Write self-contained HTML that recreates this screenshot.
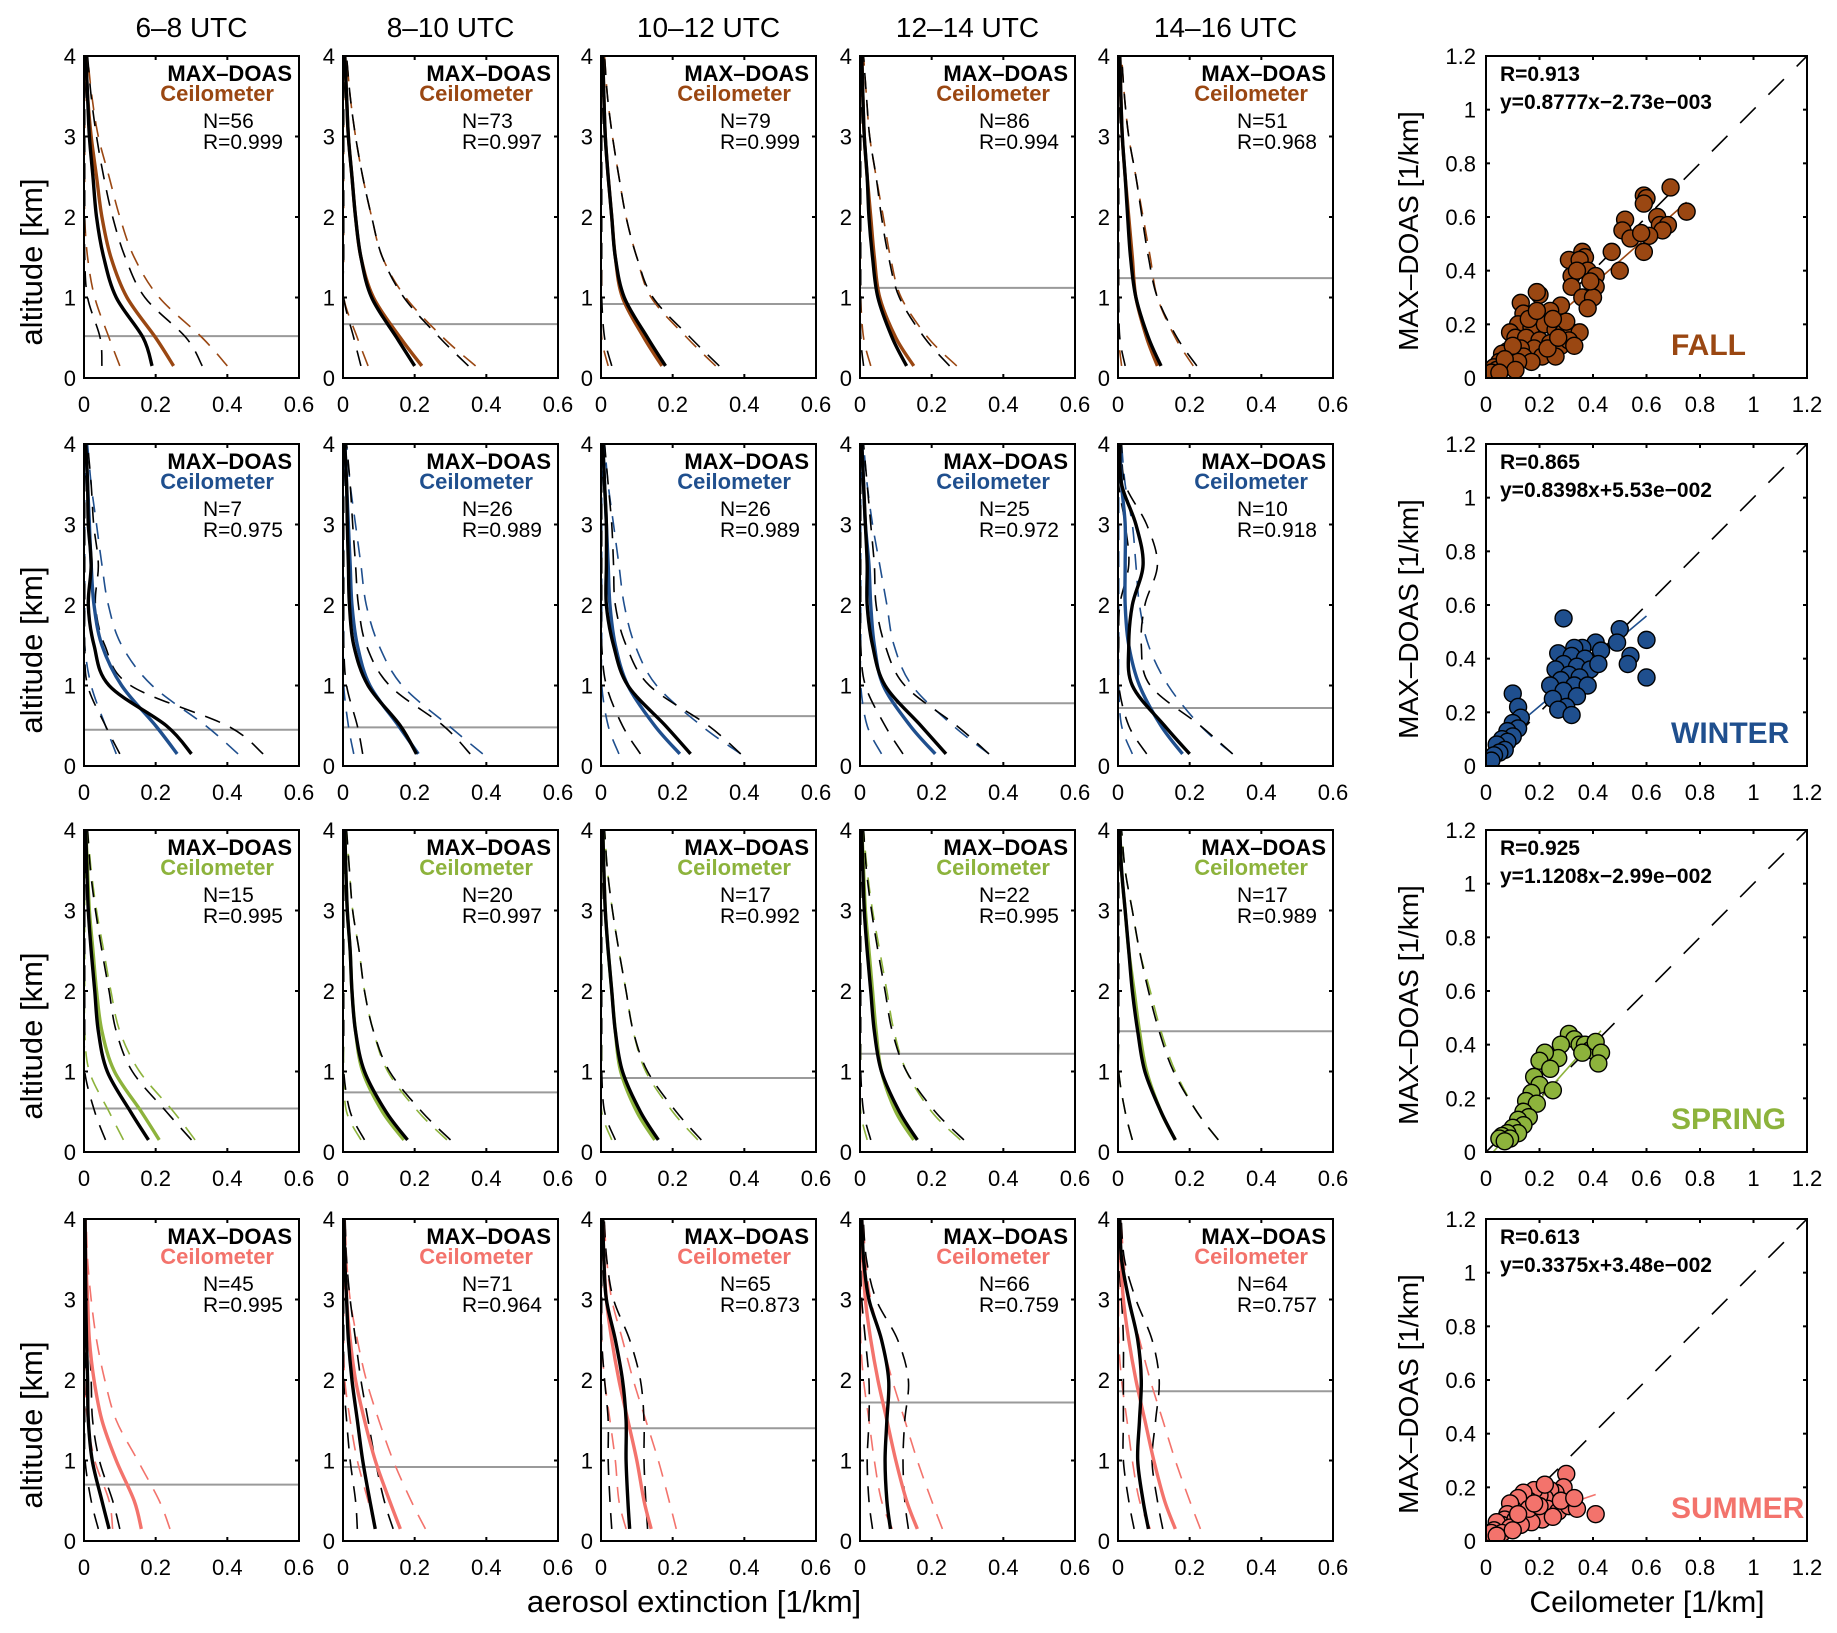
<!DOCTYPE html>
<html><head><meta charset="utf-8"><style>
html,body{margin:0;padding:0;background:#fff}
svg{display:block;font-family:"Liberation Sans",sans-serif}
</style></head><body>
<svg id="fig" width="1837" height="1633" viewBox="0 0 1837 1633" xmlns="http://www.w3.org/2000/svg"></svg>
<script>
// ---------- DATA ----------
const altitudes = [0.15,0.5,1,1.5,2,2.5,3,3.5,4];
const timeLabels = ["6\u20138 UTC","8\u201310 UTC","10\u201312 UTC","12\u201314 UTC","14\u201316 UTC"];
const seasonNames = ["FALL","WINTER","SPRING","SUMMER"];
const seasonColors = ["#9a4712","#1f4f8e","#8db33c","#f3736c"];
const nValues = [[56,73,79,86,51],[7,26,26,25,10],[15,20,17,22,17],[45,71,65,66,64]];
const rValues = [["0.999","0.997","0.999","0.994","0.968"],["0.975","0.989","0.989","0.972","0.918"],["0.995","0.997","0.992","0.995","0.989"],["0.995","0.964","0.873","0.759","0.757"]];
const blhValues = [[0.52,0.67,0.92,1.12,1.24],[0.45,0.48,0.62,0.78,0.72],[0.54,0.74,0.92,1.22,1.5],[0.7,0.92,1.4,1.72,1.86]];
// MAX-DOAS mean profiles [season][time][altitude]
const doasMean = [
 [[0.19,0.165,0.09,0.055,0.035,0.025,0.015,0.01,0.005],[0.2,0.15,0.08,0.05,0.035,0.025,0.015,0.01,0.005],[0.18,0.13,0.065,0.04,0.03,0.02,0.012,0.008,0.005],[0.13,0.09,0.05,0.035,0.025,0.02,0.012,0.008,0.005],[0.12,0.085,0.05,0.035,0.027,0.02,0.012,0.008,0.005]],
 [[0.3,0.23,0.07,0.028,0.012,0.02,0.012,0.01,0.005],[0.205,0.16,0.07,0.03,0.018,0.015,0.012,0.01,0.005],[0.25,0.18,0.075,0.035,0.015,0.015,0.015,0.01,0.005],[0.24,0.17,0.07,0.035,0.02,0.02,0.015,0.01,0.005],[0.2,0.13,0.04,0.03,0.04,0.07,0.05,0.01,0.005]],
 [[0.18,0.13,0.065,0.04,0.03,0.02,0.012,0.008,0.005],[0.18,0.12,0.06,0.035,0.025,0.02,0.012,0.008,0.005],[0.16,0.11,0.06,0.04,0.03,0.02,0.012,0.008,0.005],[0.16,0.11,0.06,0.04,0.03,0.02,0.012,0.008,0.005],[0.16,0.12,0.075,0.055,0.04,0.03,0.02,0.01,0.005]],
 [[0.07,0.05,0.023,0.012,0.01,0.007,0.005,0.004,0.003],[0.09,0.075,0.055,0.04,0.025,0.015,0.01,0.005,0.003],[0.08,0.075,0.07,0.07,0.06,0.04,0.015,0.008,0.005],[0.085,0.075,0.07,0.075,0.08,0.06,0.025,0.01,0.005],[0.085,0.07,0.055,0.06,0.065,0.055,0.03,0.01,0.005]]
];
const doasStd = [
 [[0.14,0.12,0.08,0.06,0.045,0.03,0.02,0.01,0.005],[0.15,0.12,0.09,0.06,0.045,0.03,0.02,0.01,0.005],[0.15,0.12,0.08,0.06,0.04,0.03,0.02,0.01,0.005],[0.12,0.09,0.06,0.045,0.035,0.025,0.015,0.01,0.005],[0.1,0.08,0.06,0.05,0.04,0.03,0.018,0.01,0.005]],
 [[0.2,0.17,0.06,0.03,0.02,0.02,0.015,0.01,0.005],[0.15,0.12,0.06,0.035,0.025,0.02,0.015,0.01,0.005],[0.14,0.12,0.06,0.035,0.025,0.02,0.015,0.01,0.005],[0.12,0.1,0.055,0.035,0.025,0.02,0.015,0.01,0.005],[0.12,0.1,0.05,0.035,0.035,0.04,0.03,0.01,0.005]],
 [[0.12,0.1,0.07,0.05,0.04,0.03,0.02,0.01,0.005],[0.12,0.1,0.07,0.05,0.035,0.025,0.015,0.01,0.005],[0.12,0.1,0.07,0.05,0.04,0.03,0.02,0.01,0.005],[0.13,0.1,0.07,0.05,0.04,0.03,0.02,0.01,0.005],[0.12,0.1,0.08,0.06,0.045,0.03,0.02,0.01,0.005]],
 [[0.03,0.03,0.02,0.012,0.01,0.008,0.005,0.003,0.002],[0.05,0.04,0.035,0.03,0.025,0.02,0.01,0.005,0.003],[0.05,0.05,0.05,0.05,0.05,0.04,0.02,0.008,0.004],[0.05,0.05,0.05,0.05,0.055,0.045,0.02,0.008,0.004],[0.04,0.04,0.04,0.045,0.05,0.04,0.02,0.008,0.004]]
];
const ceilMean = [
 [[0.25,0.2,0.12,0.075,0.05,0.035,0.02,0.01,0.005],[0.22,0.16,0.085,0.05,0.035,0.025,0.015,0.01,0.005],[0.17,0.12,0.06,0.04,0.03,0.02,0.012,0.008,0.005],[0.15,0.1,0.055,0.04,0.03,0.02,0.012,0.008,0.005],[0.11,0.08,0.05,0.04,0.03,0.02,0.012,0.008,0.005]],
 [[0.26,0.2,0.105,0.05,0.028,0.02,0.015,0.01,0.005],[0.21,0.155,0.075,0.04,0.025,0.02,0.015,0.01,0.005],[0.22,0.15,0.075,0.04,0.025,0.02,0.015,0.01,0.005],[0.21,0.14,0.065,0.04,0.03,0.025,0.015,0.01,0.005],[0.18,0.12,0.06,0.03,0.02,0.02,0.02,0.01,0.005]],
 [[0.21,0.16,0.085,0.05,0.035,0.025,0.015,0.01,0.005],[0.17,0.11,0.055,0.035,0.025,0.02,0.012,0.008,0.005],[0.15,0.1,0.055,0.04,0.03,0.02,0.012,0.008,0.005],[0.15,0.1,0.06,0.045,0.035,0.025,0.015,0.01,0.005],[0.16,0.12,0.08,0.06,0.045,0.03,0.02,0.01,0.005]],
 [[0.16,0.14,0.09,0.05,0.028,0.015,0.01,0.005,0.003],[0.16,0.13,0.09,0.06,0.035,0.02,0.01,0.005,0.003],[0.14,0.12,0.1,0.075,0.05,0.03,0.015,0.008,0.005],[0.16,0.13,0.1,0.075,0.05,0.03,0.015,0.008,0.005],[0.16,0.13,0.1,0.075,0.05,0.03,0.015,0.008,0.005]]
];
const ceilStd = [
 [[0.15,0.13,0.09,0.065,0.05,0.035,0.02,0.012,0.005],[0.15,0.12,0.09,0.06,0.045,0.03,0.02,0.01,0.005],[0.15,0.12,0.08,0.06,0.04,0.03,0.02,0.01,0.005],[0.12,0.09,0.06,0.045,0.035,0.025,0.015,0.01,0.005],[0.1,0.08,0.06,0.05,0.04,0.03,0.018,0.01,0.005]],
 [[0.17,0.14,0.085,0.055,0.04,0.03,0.02,0.01,0.005],[0.18,0.14,0.09,0.06,0.04,0.03,0.02,0.01,0.005],[0.17,0.13,0.08,0.055,0.04,0.03,0.02,0.01,0.005],[0.15,0.12,0.08,0.055,0.045,0.03,0.02,0.01,0.005],[0.14,0.11,0.08,0.055,0.04,0.03,0.02,0.01,0.005]],
 [[0.1,0.09,0.07,0.05,0.04,0.03,0.02,0.01,0.005],[0.12,0.1,0.07,0.05,0.035,0.025,0.015,0.01,0.005],[0.12,0.1,0.07,0.05,0.04,0.03,0.02,0.01,0.005],[0.13,0.1,0.07,0.05,0.04,0.03,0.02,0.01,0.005],[0.12,0.1,0.08,0.06,0.045,0.03,0.02,0.01,0.005]],
 [[0.08,0.07,0.06,0.04,0.03,0.02,0.01,0.005,0.003],[0.07,0.06,0.05,0.04,0.03,0.02,0.01,0.005,0.003],[0.07,0.07,0.06,0.05,0.04,0.03,0.015,0.008,0.004],[0.07,0.07,0.06,0.05,0.04,0.03,0.015,0.008,0.004],[0.07,0.07,0.06,0.05,0.04,0.03,0.015,0.008,0.004]]
];
const profileXTicks = [0,0.2,0.4,0.6];
const profileXTickLabels = ["0","0.2","0.4","0.6"];
const profileYTicks = [0,1,2,3,4];
const scatterTicks = [0,0.2,0.4,0.6,0.8,1,1.2];
const scatterTickLabels = ["0","0.2","0.4","0.6","0.8","1","1.2"];
const scatterR = ["R=0.913","R=0.865","R=0.925","R=0.613"];
const scatterEq = ["y=0.8777x\u22122.73e\u2212003","y=0.8398x+5.53e\u2212002","y=1.1208x\u22122.99e\u2212002","y=0.3375x+3.48e\u2212002"];
const fitSlope = [0.8777,0.8398,1.1208,0.3375];
const fitIntercept = [-0.00273,0.0553,-0.0299,0.0348];
const fitXMax = [0.75,0.6,0.43,0.41];
const fallX = [0.69,0.59,0.60,0.59,0.75,0.52,0.64,0.65,0.68,0.66,0.51,0.54,0.61,0.58,0.47,0.59,0.50,0.36,0.37,0.31,0.35,0.38,0.41,0.32,0.41,0.32,0.36,0.40,0.38,0.28,0.20,0.19,0.13,0.24,0.14,0.12,0.17,0.22,0.26,0.29,0.32,0.35,0.09,0.11,0.15,0.20,0.24,0.28,0.31,0.18,0.13,0.08,0.06,0.10,0.14,0.21,0.26,0.17,0.05,0.07,0.03,0.04,0.02,0.09,0.12,0.23,0.30,0.25,0.16,0.10,0.07,0.11,0.05,0.27,0.33,0.19,0.34,0.39];
const fallY = [0.71,0.68,0.67,0.65,0.62,0.59,0.60,0.57,0.57,0.55,0.55,0.52,0.53,0.54,0.47,0.47,0.40,0.47,0.45,0.44,0.44,0.40,0.38,0.38,0.34,0.34,0.30,0.30,0.26,0.27,0.31,0.32,0.28,0.25,0.24,0.20,0.19,0.20,0.18,0.17,0.17,0.17,0.17,0.15,0.15,0.14,0.13,0.12,0.14,0.11,0.11,0.10,0.09,0.08,0.08,0.08,0.08,0.06,0.06,0.05,0.04,0.03,0.02,0.05,0.06,0.11,0.21,0.22,0.22,0.12,0.07,0.03,0.02,0.15,0.12,0.25,0.40,0.36];
const winterX = [0.29,0.50,0.60,0.49,0.54,0.53,0.60,0.41,0.43,0.36,0.33,0.27,0.32,0.37,0.29,0.34,0.39,0.42,0.26,0.31,0.35,0.28,0.33,0.38,0.24,0.29,0.34,0.25,0.30,0.27,0.32,0.10,0.12,0.13,0.10,0.12,0.08,0.10,0.06,0.08,0.04,0.07,0.05,0.03,0.02];
const winterY = [0.55,0.51,0.47,0.46,0.41,0.38,0.33,0.46,0.43,0.44,0.44,0.42,0.41,0.40,0.38,0.37,0.36,0.38,0.36,0.34,0.33,0.32,0.30,0.30,0.30,0.28,0.26,0.25,0.22,0.21,0.19,0.27,0.22,0.18,0.16,0.14,0.13,0.11,0.10,0.09,0.08,0.06,0.05,0.04,0.02];
const springX = [0.31,0.33,0.35,0.37,0.39,0.41,0.43,0.42,0.36,0.28,0.27,0.22,0.20,0.24,0.18,0.20,0.25,0.17,0.15,0.19,0.14,0.16,0.12,0.14,0.10,0.12,0.08,0.06,0.09,0.05,0.07];
const springY = [0.44,0.42,0.40,0.40,0.38,0.41,0.37,0.33,0.37,0.40,0.35,0.37,0.34,0.31,0.28,0.25,0.23,0.22,0.19,0.18,0.15,0.13,0.12,0.10,0.09,0.07,0.07,0.06,0.05,0.05,0.04];
const summerX = [0.41,0.30,0.29,0.26,0.24,0.22,0.20,0.18,0.16,0.14,0.13,0.12,0.10,0.09,0.08,0.07,0.06,0.05,0.04,0.03,0.02,0.11,0.15,0.19,0.23,0.27,0.31,0.34,0.21,0.17,0.13,0.09,0.25,0.28,0.33,0.06,0.04,0.10,0.16,0.20,0.12,0.22,0.18];
const summerY = [0.10,0.25,0.20,0.18,0.19,0.16,0.17,0.19,0.15,0.18,0.13,0.16,0.12,0.14,0.10,0.08,0.06,0.05,0.07,0.04,0.03,0.08,0.10,0.11,0.12,0.11,0.13,0.12,0.08,0.07,0.06,0.05,0.09,0.15,0.16,0.03,0.02,0.04,0.12,0.13,0.10,0.21,0.14];
const scatterXs = [fallX,winterX,springX,summerX];
const scatterYs = [fallY,winterY,springY,summerY];

// ---------- LAYOUT ----------
const NS = "http://www.w3.org/2000/svg";
const svg = document.getElementById("fig");
const colL = [84,343,601,860,1118], PW = 215;
const rowT = [56,444,830,1219], PH = 322;
const SL = 1486, SW = 321;
const FONT = '"Liberation Sans", sans-serif';
function el(tag, attrs, parent){const e=document.createElementNS(NS,tag);for(const k in attrs)e.setAttribute(k,attrs[k]);(parent||svg).appendChild(e);return e;}
function txt(s, attrs, parent){const t=el("text",Object.assign({"font-family":FONT},attrs),parent);t.textContent=s;return t;}
function smoothPath(pts){
  let d="M"+pts[0][0].toFixed(2)+","+pts[0][1].toFixed(2);
  for(let i=0;i<pts.length-1;i++){
    const p0=pts[Math.max(i-1,0)],p1=pts[i],p2=pts[i+1],p3=pts[Math.min(i+2,pts.length-1)];
    const c1=[p1[0]+(p2[0]-p0[0])/6,p1[1]+(p2[1]-p0[1])/6];
    const c2=[p2[0]-(p3[0]-p1[0])/6,p2[1]-(p3[1]-p1[1])/6];
    d+=" C"+c1[0].toFixed(2)+","+c1[1].toFixed(2)+" "+c2[0].toFixed(2)+","+c2[1].toFixed(2)+" "+p2[0].toFixed(2)+","+p2[1].toFixed(2);
  }
  return d;
}

timeLabels.forEach((t,c)=>{
  const e=txt(t,{x:colL[c]+PW/2,y:37,"font-size":28,"text-anchor":"middle"});
  
  
});

for(let r=0;r<4;r++){
  const top=rowT[r], bot=top+PH;
  const yl=txt("altitude [km]",{x:0,y:0,"font-size":31,"text-anchor":"middle",transform:`translate(42,${top+PH/2+45}) rotate(-90)`});
  
  
  for(let c=0;c<5;c++){
    const L=colL[c];
    const xs=v=>L+v/0.6*PW;
    const ys=a=>bot-a/4*PH;
    const g=el("g",{});
    
    
    const clip=el("clipPath",{id:`cp${r}${c}`},g);
    el("rect",{x:L,y:top,width:PW,height:PH},clip);
    const pg=el("g",{"clip-path":`url(#cp${r}${c})`},g);
    const bl=el("line",{x1:L,x2:L+PW,y1:ys(blhValues[r][c]),y2:ys(blhValues[r][c]),stroke:"#9a9a9a","stroke-width":2},pg);
    
    
    const series=[[ceilMean[r][c],ceilStd[r][c],seasonColors[r],'ceilometer'],[doasMean[r][c],doasStd[r][c],"#000",'max-doas']];
    series.forEach(([m,s,col,nm])=>{
      [-1,1].forEach(sign=>{
        const pts=altitudes.map((a,i)=>[xs(Math.max(m[i]+sign*s[i],0.002)),ys(a)]);
        const p=el("path",{d:smoothPath(pts),fill:"none",stroke:col,"stroke-width":1.6,"stroke-dasharray":"16 11"},pg);
        
        
      });
    });
    series.forEach(([m,s,col,nm])=>{
      const pts=altitudes.map((a,i)=>[xs(m[i]),ys(a)]);
      const p=el("path",{d:smoothPath(pts),fill:"none",stroke:col,"stroke-width":3.4},pg);
      
      
    });
    const bx=el("rect",{x:L,y:top,width:PW,height:PH,fill:"none",stroke:"#000","stroke-width":2},g);
    
    
    profileXTicks.forEach((v,i)=>{
      el("line",{x1:xs(v),x2:xs(v),y1:bot,y2:bot-4,stroke:"#000","stroke-width":2},g);
      el("line",{x1:xs(v),x2:xs(v),y1:top,y2:top+4,stroke:"#000","stroke-width":2},g);
      const t=txt(profileXTickLabels[i],{x:xs(v),y:bot+34,"font-size":22,"text-anchor":"middle"},g);
      
      
    });
    profileYTicks.forEach(v=>{
      el("line",{x1:L,x2:L+4,y1:ys(v),y2:ys(v),stroke:"#000","stroke-width":2},g);
      el("line",{x1:L+PW,x2:L+PW-4,y1:ys(v),y2:ys(v),stroke:"#000","stroke-width":2},g);
      const t=txt(String(v),{x:L-8,y:ys(v)+8,"font-size":22,"text-anchor":"end"},g);
      
      
    });
    const t1=txt("MAX\u2013DOAS",{x:L+PW-7,y:top+25,"font-size":22,"font-weight":"bold","text-anchor":"end"},g);
    
    
    const t2=txt("Ceilometer",{x:L+PW-25,y:top+45,"font-size":22,"font-weight":"bold","text-anchor":"end",fill:seasonColors[r]},g);
    
    
    const t3=txt("N="+nValues[r][c],{x:L+119,y:top+72,"font-size":21},g);
    
    
    const t4=txt("R="+rValues[r][c],{x:L+119,y:top+93,"font-size":21},g);
    
    
  }
  const g=el("g",{});
  
  
  const sx=v=>SL+v/1.2*SW, sy=v=>bot-v/1.2*PH;
  const cl=el("clipPath",{id:`sc${r}`},g);
  el("rect",{x:SL,y:top,width:SW,height:PH},cl);
  const pg=el("g",{"clip-path":`url(#sc${r})`},g);
  const one=el("line",{x1:sx(0),y1:sy(0),x2:sx(1.2),y2:sy(1.2),stroke:"#000","stroke-width":1.6,"stroke-dasharray":"22 18"},pg);
  
  
  const fl=el("line",{x1:sx(0),y1:sy(fitIntercept[r]),x2:sx(fitXMax[r]),y2:sy(fitSlope[r]*fitXMax[r]+fitIntercept[r]),stroke:seasonColors[r],"stroke-width":1.6},pg);
  
  
  scatterXs[r].forEach((x,i)=>{
    const cc=el("circle",{cx:sx(x),cy:sy(scatterYs[r][i]),r:8.5,fill:seasonColors[r],stroke:"#000","stroke-width":1.4},pg);
    
    
  });
  const sb=el("rect",{x:SL,y:top,width:SW,height:PH,fill:"none",stroke:"#000","stroke-width":2},g);
  
  
  scatterTicks.forEach((v,i)=>{
    el("line",{x1:sx(v),x2:sx(v),y1:bot,y2:bot-4,stroke:"#000","stroke-width":2},g);
    el("line",{x1:sx(v),x2:sx(v),y1:top,y2:top+4,stroke:"#000","stroke-width":2},g);
    el("line",{x1:SL,x2:SL+4,y1:sy(v),y2:sy(v),stroke:"#000","stroke-width":2},g);
    el("line",{x1:SL+SW,x2:SL+SW-4,y1:sy(v),y2:sy(v),stroke:"#000","stroke-width":2},g);
    const tx=txt(scatterTickLabels[i],{x:sx(v),y:bot+34,"font-size":22,"text-anchor":"middle"},g);
    
    
    const ty=txt(scatterTickLabels[i],{x:SL-10,y:sy(v)+8,"font-size":22,"text-anchor":"end"},g);
    
    
  });
  const rt=txt(scatterR[r],{x:SL+14,y:top+25,"font-size":21,"font-weight":"bold"},g);
  
  
  const et=txt(scatterEq[r],{x:SL+14,y:top+53,"font-size":21,"font-weight":"bold"},g);
  
  
  const st=txt(seasonNames[r],{x:1671,y:top+PH-23,"font-size":30,"font-weight":"bold","text-anchor":"start",fill:seasonColors[r]},g);
  
  
  const syl=txt("MAX\u2013DOAS [1/km]",{x:0,y:0,"font-size":28,"text-anchor":"middle",transform:`translate(1418,${top+PH/2+14}) rotate(-90)`},g);
  
  
}
const xl=txt("aerosol extinction [1/km]",{x:694,y:1612,"font-size":31,"text-anchor":"middle"});


const xl2=txt("Ceilometer [1/km]",{x:1647,y:1612,"font-size":30,"text-anchor":"middle"});


</script>
</body></html>
